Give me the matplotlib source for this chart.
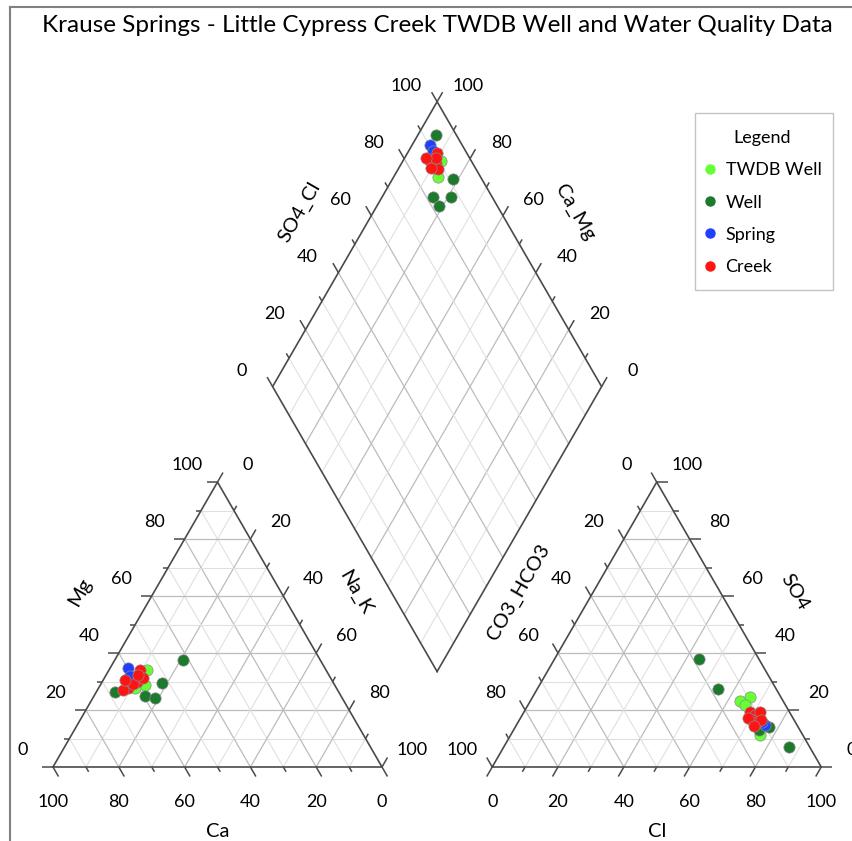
import numpy as np
import matplotlib.pyplot as plt
from matplotlib.lines import Line2D
from matplotlib.patches import Rectangle

plt.rcParams['font.family'] = ['Lato', 'DejaVu Sans']

# percentages, one entry per sample
twdb_ca = [54.5, 57.6, 61.3, 61.5]
twdb_mg = [34.0, 28.8, 27.7, 31.3]
twdb_na_k = [11.5, 13.6, 11.0, 7.2]
twdb_cl = [66.1, 63.8, 66.0, 75.9]
twdb_so4 = [24.6, 23.2, 21.8, 11.2]
twdb_hco3 = [9.3, 13.0, 12.2, 12.9]

well_ca = [68.0, 52.3, 59.6, 41.7, 56.9]
well_mg = [26.4, 29.4, 24.9, 37.5, 24.3]
well_na_k = [5.6, 18.3, 15.5, 20.8, 18.8]
well_cl = [86.9, 77.2, 44.1, 74.5, 54.8]
well_so4 = [6.9, 14.0, 37.8, 13.0, 27.4]
well_hco3 = [6.2, 8.8, 18.1, 12.5, 17.8]

spring_ca = [59.8, 60.7]
spring_mg = [34.7, 31.9]
spring_na_k = [5.5, 7.4]
spring_cl = [75.6, 74.2]
spring_so4 = [14.7, 15.8]
spring_hco3 = [9.7, 10.0]

creek_ca = [56.6, 59.6, 63.3, 65.1, 57.0, 61.1, 58.0, 62.8]
creek_mg = [34.0, 29.9, 27.6, 27.0, 31.1, 29.1, 32.3, 30.5]
creek_na_k = [9.4, 10.5, 9.1, 7.9, 11.9, 9.8, 9.7, 6.7]
creek_cl = [68.8, 70.8, 71.8, 70.8, 72.6, 69.2, 73.3, 72.4]
creek_so4 = [19.3, 18.3, 19.3, 16.5, 15.8, 17.2, 16.5, 14.4]
creek_hco3 = [11.9, 10.9, 8.9, 12.7, 11.6, 13.6, 10.2, 13.2]

groups = [
    ('TWDB Well', '#66ff33', twdb_ca, twdb_mg, twdb_na_k, twdb_cl, twdb_so4, twdb_hco3),
    ('Well', '#1b7a2b', well_ca, well_mg, well_na_k, well_cl, well_so4, well_hco3),
    ('Spring', '#2040ff', spring_ca, spring_mg, spring_na_k, spring_cl, spring_so4, spring_hco3),
    ('Creek', '#ff1414', creek_ca, creek_mg, creek_na_k, creek_cl, creek_so4, creek_hco3),
]

ticks = np.arange(0, 101, 20)
title = 'Krause Springs - Little Cypress Creek TWDB Well and Water Quality Data'

h = np.sqrt(3) / 2
gap = 33.5
ox = 100 + gap                      # left corner of anion triangle
bx, by = 100 + gap / 2, gap * h     # bottom of diamond
u1 = np.array([-0.5, h])
u2 = np.array([0.5, h])
px = 3.29                           # pixels per unit
major_len, minor_len = 11 / px, 5.5 / px

W, H = 852, 841
fig = plt.figure(figsize=(W / 100, H / 100), dpi=100)
ax = fig.add_axes([0, 0, 1, 1])
ax.set_xlim(-53 / px, (W - 53) / px)
ax.set_ylim(-(H - 767) / px, 767 / px)
ax.set_aspect('equal')
ax.axis('off')

edge = '#4a4a4a'
grid_major = '#bcbcbc'
grid_minor = '#e0e0e0'
fs = 13
fs_ax = 14.5


def seg(p, q, **kw):
    ax.plot([p[0], q[0]], [p[1], q[1]], solid_capstyle='butt', **kw)


def gridstyle(v):
    if v % 20 == 0:
        return dict(color=grid_major, lw=0.9, zorder=1)
    return dict(color=grid_minor, lw=0.8, zorder=1)


def tri_frame(x0):
    A = np.array([x0, 0]); B = np.array([x0 + 100, 0]); C = np.array([x0 + 50, 100 * h])
    for v in range(10, 100, 10):
        st = gridstyle(v)
        seg(A + (C - A) * v / 100, B + (C - B) * v / 100, **st)
        seg(A + (B - A) * v / 100, C + (B - C) * v / 100, **st)
        seg(B + (A - B) * v / 100, C + (A - C) * v / 100, **st)
    ax.plot([A[0], B[0], C[0], A[0]], [A[1], B[1], C[1], A[1]], color=edge, lw=1.2, zorder=2)


def tick(p, d, v):
    L = major_len if v % 20 == 0 else minor_len
    seg(p, p + np.array(d) * L, color=edge, lw=1.1, zorder=2)


def label(p, s, **kw):
    ax.text(p[0], p[1], s, ha='center', va='center', **kw)


off_l = np.array([-30, 17]) / px
off_r = np.array([30, 17]) / px
off_b = np.array([0, -35]) / px
title_off = 19.5

# cation triangle
tri_frame(0)
for v in range(0, 101, 10):
    tick(np.array([v / 2, v * h]), (-1, 0), v)                      # Mg
    tick(np.array([100 - v, 0]), (0.5, -h), v)                      # Ca
    tick(np.array([50 + v / 2, (100 - v) * h]), (0.5, h), v)        # Na_K
for v in ticks:
    label(np.array([v / 2, v * h]) + off_l, str(v), fontsize=fs)
    label(np.array([100 - v, 0]) + off_b, str(v), fontsize=fs)
    label(np.array([50 + v / 2, (100 - v) * h]) + off_r, str(v), fontsize=fs)
label((25 - title_off * h, 50 * h + title_off * 0.5), 'Mg', fontsize=fs_ax, rotation=60)
label((75 + title_off * h, 50 * h + title_off * 0.5), 'Na_K', fontsize=fs_ax, rotation=-60)
label((50, -title_off), 'Ca', fontsize=fs_ax)

# anion triangle
tri_frame(ox)
for v in range(0, 101, 10):
    tick(np.array([ox + v, 0]), (-0.5, -h), v)                         # Cl
    tick(np.array([ox + 100 - v / 2, v * h]), (1, 0), v)               # SO4
    tick(np.array([ox + (100 - v) / 2, (100 - v) * h]), (-0.5, h), v)  # CO3_HCO3
for v in ticks:
    label(np.array([ox + v, 0]) + off_b, str(v), fontsize=fs)
    label(np.array([ox + 100 - v / 2, v * h]) + off_r, str(v), fontsize=fs)
    label(np.array([ox + (100 - v) / 2, (100 - v) * h]) + off_l, str(v), fontsize=fs)
label((ox + 25 - title_off * h, 50 * h + title_off * 0.5), 'CO3_HCO3', fontsize=fs_ax, rotation=60)
label((ox + 75 + title_off * h, 50 * h + title_off * 0.5), 'SO4', fontsize=fs_ax, rotation=-60)
label((ox + 50, -title_off), 'Cl', fontsize=fs_ax)

# diamond
Bd = np.array([bx, by])
for v in range(10, 100, 10):
    st = gridstyle(v)
    seg(Bd + v * u1, Bd + v * u1 + 100 * u2, **st)
    seg(Bd + v * u2, Bd + v * u2 + 100 * u1, **st)
corners = [Bd, Bd + 100 * u1, Bd + 100 * u1 + 100 * u2, Bd + 100 * u2, Bd]
ax.plot([c[0] for c in corners], [c[1] for c in corners], color=edge, lw=1.2, zorder=2)
off_dl = np.array([-31, 16]) / px
off_dr = np.array([31, 16]) / px
for v in range(0, 101, 10):
    tick(Bd + 100 * u1 + v * u2, u1, v)    # SO4_Cl
    tick(Bd + v * u1 + 100 * u2, u2, v)    # Ca_Mg
for v in ticks:
    label(Bd + 100 * u1 + v * u2 + off_dl, str(v), fontsize=fs)
    label(Bd + v * u1 + 100 * u2 + off_dr, str(v), fontsize=fs)
label(Bd + 100 * u1 + 50 * u2 + title_off * np.array([-h, 0.5]), 'SO4_Cl', fontsize=fs_ax, rotation=60)
label(Bd + 50 * u1 + 100 * u2 + title_off * np.array([h, 0.5]), 'Ca_Mg', fontsize=fs_ax, rotation=-60)

# samples
handles = []
for name, col, ca, mg, na, cl, so4, hco3 in groups:
    ca, mg, na = map(np.asarray, (ca, mg, na))
    cl, so4, hco3 = map(np.asarray, (cl, so4, hco3))
    ct = ca + mg + na
    at = cl + so4 + hco3
    mgp, nap = mg / ct * 100, na / ct * 100
    so4p, clp = so4 / at * 100, cl / at * 100
    kw = dict(s=66, color=col, edgecolors='#8c8c8c', linewidths=0.5, zorder=5)
    ax.scatter(nap + mgp / 2, mgp * h, **kw)
    ax.scatter(ox + clp + so4p / 2, so4p * h, **kw)
    a = 100 - nap
    b = so4p + clp
    ax.scatter(bx + 0.5 * (b - a), by + h * (a + b), **kw)
    handles.append(Line2D([], [], marker='o', ls='none', color=col, markersize=6.5, label=name))

# legend box
fig.add_artist(Rectangle((695 / W, 1 - 290 / H), 138 / W, 177 / H, transform=fig.transFigure,
                         facecolor='white', edgecolor='#c4c4c4', lw=1.0, zorder=3))
leg = fig.legend(handles=handles, title='Legend', loc='upper left',
                 bbox_to_anchor=(703 / W, 1 - 130 / H), borderaxespad=0, borderpad=0,
                 fontsize=fs, title_fontsize=fs, frameon=False,
                 handletextpad=0.45, labelspacing=0.9, handlelength=0.8)
leg.set_zorder(4)

fig.text(437 / W, 1 - 26 / H, title, fontsize=17.5, ha='center', va='center')

# outer frame of the original image
fig.add_artist(Line2D([10 / W, 10 / W], [0, 1 - 7 / H], color='#808080', lw=1.5))
fig.add_artist(Line2D([10 / W, 1], [1 - 7 / H, 1 - 7 / H], color='#808080', lw=1.5))

fig.savefig('out.png', dpi=100)
